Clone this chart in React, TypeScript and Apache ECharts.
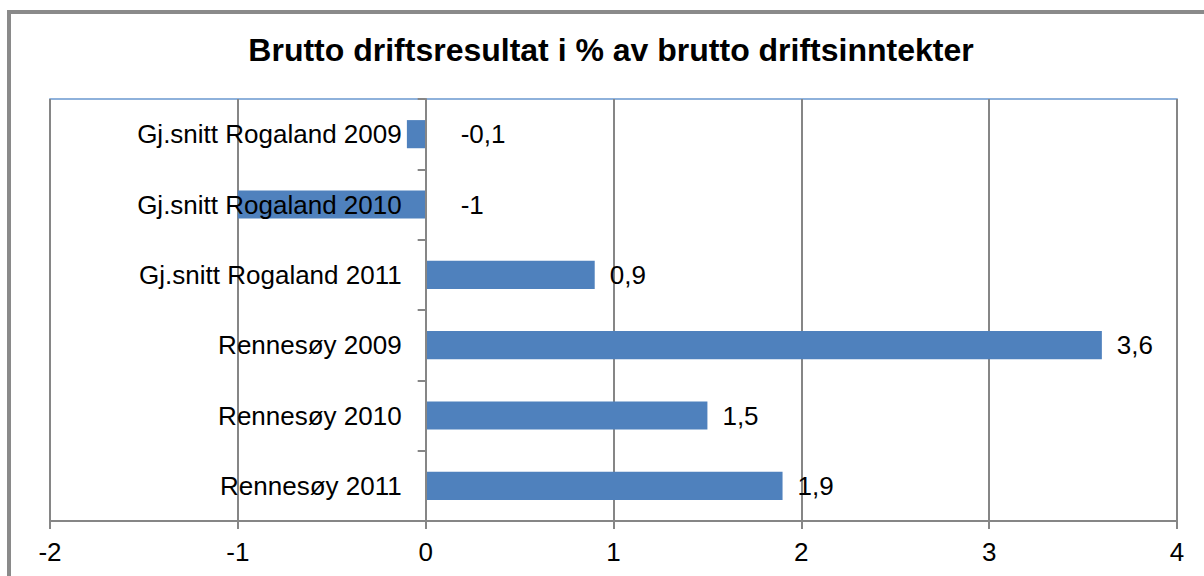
import React, { useEffect, useRef } from "react";
import * as echarts from "echarts";

const title = "Brutto driftsresultat i % av brutto driftsinntekter";
const categories = [
  "Gj.snitt Rogaland 2009",
  "Gj.snitt Rogaland 2010",
  "Gj.snitt Rogaland 2011",
  "Rennesøy 2009",
  "Rennesøy 2010",
  "Rennesøy 2011",
];
const values = [-0.1, -1, 0.9, 3.6, 1.5, 1.9];
const xMin = -2;
const xMax = 4;
const xInterval = 1;

const FONT = "'Liberation Sans', Arial, sans-serif";
const GRID_LEFT = 50;
const GRID_RIGHT = 27;
const WIDTH = 1204;

export default function App() {
  const ref = useRef<HTMLDivElement>(null);
  useEffect(() => {
    if (!ref.current) return;
    const chart = echarts.init(ref.current, undefined, { renderer: "svg" });
    const fmt = (v: number) => String(v).replace(".", ",");
    const plotW = WIDTH - GRID_LEFT - GRID_RIGHT;
    const zeroOffset = ((0 - xMin) / (xMax - xMin)) * plotW;
    chart.setOption({
      animation: false,
      backgroundColor: "#ffffff",
      textStyle: { fontFamily: FONT },
      graphic: [
        {
          type: "rect",
          shape: { x: 9, y: 12, width: 1400, height: 800 },
          style: { fill: "none", stroke: "#8a8a8a", lineWidth: 4 },
          silent: true,
        },
        {
          type: "text",
          x: 611,
          y: 50,
          style: {
            text: title,
            fontFamily: FONT,
            fontSize: 32,
            fontWeight: "bold",
            fill: "#000000",
            textAlign: "center",
            textVerticalAlign: "middle",
          },
        },
      ],
      grid: {
        left: GRID_LEFT,
        right: GRID_RIGHT,
        top: 99,
        bottom: 55,
        show: true,
        borderColor: "#6A98D0",
        borderWidth: 1.5,
        backgroundColor: "#ffffff",
        containLabel: false,
        outerBoundsMode: "none",
      },
      xAxis: {
        type: "value",
        min: xMin,
        max: xMax,
        interval: xInterval,
        axisLine: { show: true, lineStyle: { color: "#868686", width: 2 } },
        axisTick: { show: true, length: 8, lineStyle: { color: "#868686", width: 2 } },
        axisLabel: {
          fontSize: 26,
          color: "#000000",
          fontFamily: FONT,
          margin: 18,
          formatter: (v: number) => fmt(v),
        },
        splitLine: { show: true, lineStyle: { color: "#868686", width: 2 } },
      },
      yAxis: {
        type: "category",
        data: categories,
        inverse: true,
        axisLine: { show: true, onZero: true, lineStyle: { color: "#868686", width: 2 } },
        axisTick: { show: true, length: 8, lineStyle: { color: "#868686", width: 2 } },
        axisLabel: {
          fontSize: 26,
          color: "#000000",
          fontFamily: FONT,
          margin: -(zeroOffset - 24),
          align: "right",
        },
        splitLine: { show: false },
        z: 3,
      },
      series: [
        {
          type: "bar",
          data: values.map((v) => ({
            value: v,
            label: { distance: v < 0 ? 35 : 15 },
          })),
          barWidth: "40%",
          itemStyle: { color: "#4F81BD" },
          label: {
            show: true,
            position: "right",
            fontSize: 26,
            color: "#000000",
            fontFamily: FONT,
            formatter: (p: any) => fmt(p.value),
          },
          z: 2,
        },
      ],
    });
    return () => chart.dispose();
  }, []);
  return (
    <div
      ref={ref}
      style={{ position: "absolute", left: 0, top: 0, width: WIDTH, height: 576 }}
    />
  );
}
